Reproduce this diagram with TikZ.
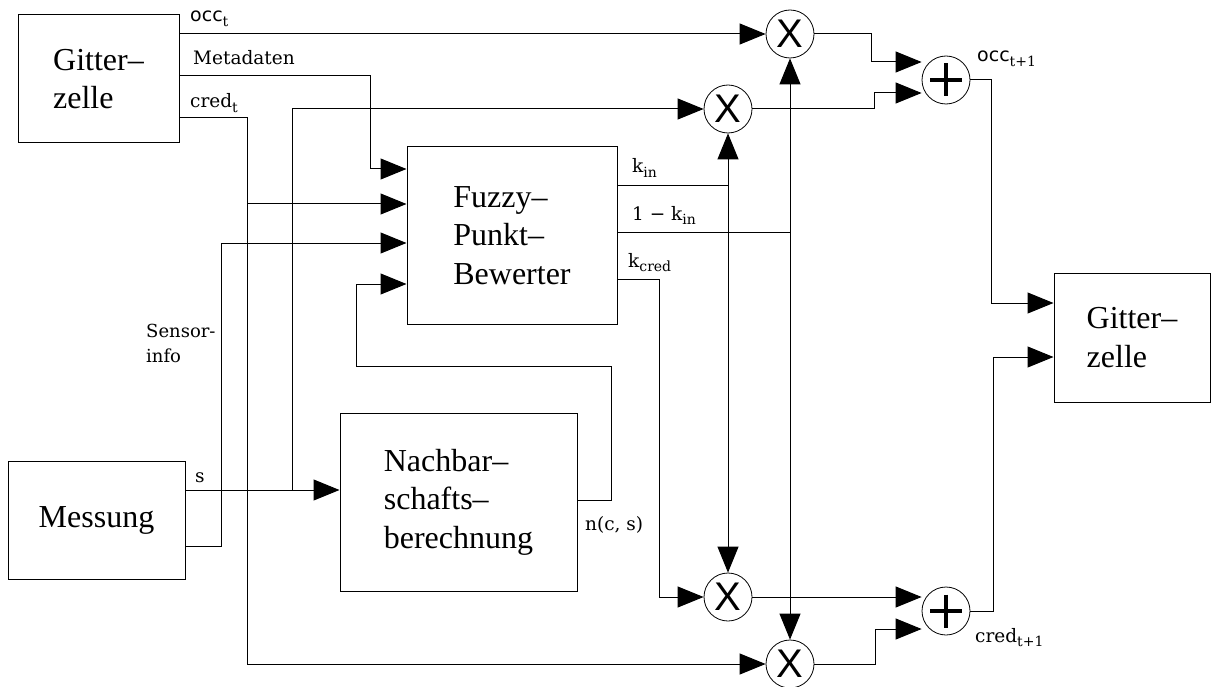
\documentclass[tikz,border=0pt]{standalone}
\usepackage{fontspec}
\setmainfont{Liberation Serif}
\newfontfamily\lblserif{DejaVu Serif}
\newfontfamily\lblsans{DejaVu Sans}
\newfontfamily\xfont{Liberation Sans}
\usetikzlibrary{arrows.meta}
\newcommand{\lsub}[1]{\raisebox{-4.5pt}{\fontsize{14}{14}\selectfont #1}}
\begin{document}
\begin{tikzpicture}[x=1pt,y=-1pt,
  blk/.style={draw, line width=1pt, align=left, inner sep=0pt, font=\fontsize{32}{38.5}\selectfont},
  mult/.style={circle, draw, line width=0.8pt, minimum size=48, inner sep=0pt, font=\xfont\fontsize{40}{40}\selectfont},
  addn/.style={circle, draw, line width=0.8pt, minimum size=48, inner sep=0pt,
    path picture={\draw[line width=3.4pt] (path picture bounding box.center) ++(-16,0) -- ++(32,0);
                  \draw[line width=3.4pt] (path picture bounding box.center) ++(0,-16.5) -- ++(0,33);}},
  wire/.style={line width=1pt},
  arr/.style={wire, -{Triangle[length=26pt,width=21pt]}},
  darr/.style={wire, {Triangle[length=26pt,width=21pt]}-{Triangle[length=26pt,width=21pt]}},
  lbl/.style={font=\lblserif\fontsize{18.5}{25}\selectfont, inner sep=0pt, anchor=base west}
]
\useasboundingbox (0,0) rectangle (1212,687);

% blocks
\node[blk, minimum width=161, minimum height=128] (gz1) at (98.5,79) {Gitter–\\zelle};
\node[blk, minimum width=210, minimum height=177] (fuzzy) at (512,235.5) {Fuzzy–\\Punkt–\\Bewerter};
\node[blk, minimum width=177, minimum height=118] (mess) at (96.5,520) {Messung};
\node[blk, minimum width=237, minimum height=178] (nach) at (458.5,502) {Nachbar–\\schafts–\\berechnung};
\node[blk, minimum width=156, minimum height=129] (gz2) at (1132,337.5) {Gitter–\\zelle};

% operators
\node[mult] (m1) at (790,34) {X};
\node[mult] (m2) at (728,109) {X};
\node[mult] (m3) at (728,597) {X};
\node[mult] (m4) at (790,664) {X};
\node[addn] (p1) at (946,80) {};
\node[addn] (p2) at (946,611) {};

% connectors from Gitterzelle
\draw[arr] (gz1.east |- m1) -- (m1);
\draw[arr] (gz1.east |- 0,76) -| (370,169) -- (fuzzy.west |- 0,169);
\draw[arr] (gz1.east |- 0,118) -| (247,664) -- (m4);
\draw[arr] (247,204) -- (fuzzy.west |- 0,204);

% Messung
\draw[arr] (mess.east |- 0,490) -- (nach.west |- 0,490);
\draw[arr] (292,490) |- (m2);
\draw[arr] (mess.east |- 0,546) -| (221,243) -- (fuzzy.west |- 0,243);

% feedback
\draw[arr] (nach.east |- 0,500) -| (611,366) -| (356,284) -- (fuzzy.west |- 0,284);

% fuzzy outputs
\draw[wire] (fuzzy.east |- 0,186) -- (m2 |- 0,186);
\draw[darr] (m2) -- (m3);
\draw[wire] (fuzzy.east |- 0,232) -- (m1 |- 0,232);
\draw[darr] (m1) -- (m4);
\draw[arr] (fuzzy.east |- 0,279) -| (659,597) -- (m3);

% to adders
\draw[arr] (m1.east) -| (871,62) -- (p1.west |- 0,62);
\draw[arr] (m2.east) -| (874,93) -- (p1.west |- 0,93);
\draw[arr] (m3.east) -- (p2.west |- m3);
\draw[arr] (m4.east) -| (875,629) -- (p2.west |- 0,629);

% to Gitterzelle 2
\draw[arr] (p1.east) -| (991,303) -- (gz2.west |- 0,303);
\draw[arr] (p2.east) -| (993,357) -- (gz2.west |- 0,357);

% labels
\node[lbl] (locc) at (190,22) {{\lblsans\fontsize{19}{19}\selectfont occ}\lsub{t}};
\node[lbl] (lmeta) at (193,65) {Metadaten};
\node[lbl] (lcred) at (190,108) {cred\lsub{t}};
\node[lbl] (lkin) at (632,173) {k\lsub{in}};
\node[lbl] (lkin1) at (632,220) {1 − k\lsub{in}};
\node[lbl] (lkcred) at (628,267) {k\lsub{cred}};
\node[lbl] (lncs) at (585,530) {n(c, s)};
\node[lbl] (ls) at (195,482) {s};
\node[lbl, align=left, anchor=north west, font=\lblserif\fontsize{18}{25}\selectfont] (lsens) at (146,324) {Sensor-\\info};
\node[lbl] (locc1) at (977,62) {{\lblsans\fontsize{19}{19}\selectfont occ}\lsub{t+1}};
\node[lbl] (lcred1) at (975,642) {cred\lsub{t+1}};
\end{tikzpicture}
\end{document}
